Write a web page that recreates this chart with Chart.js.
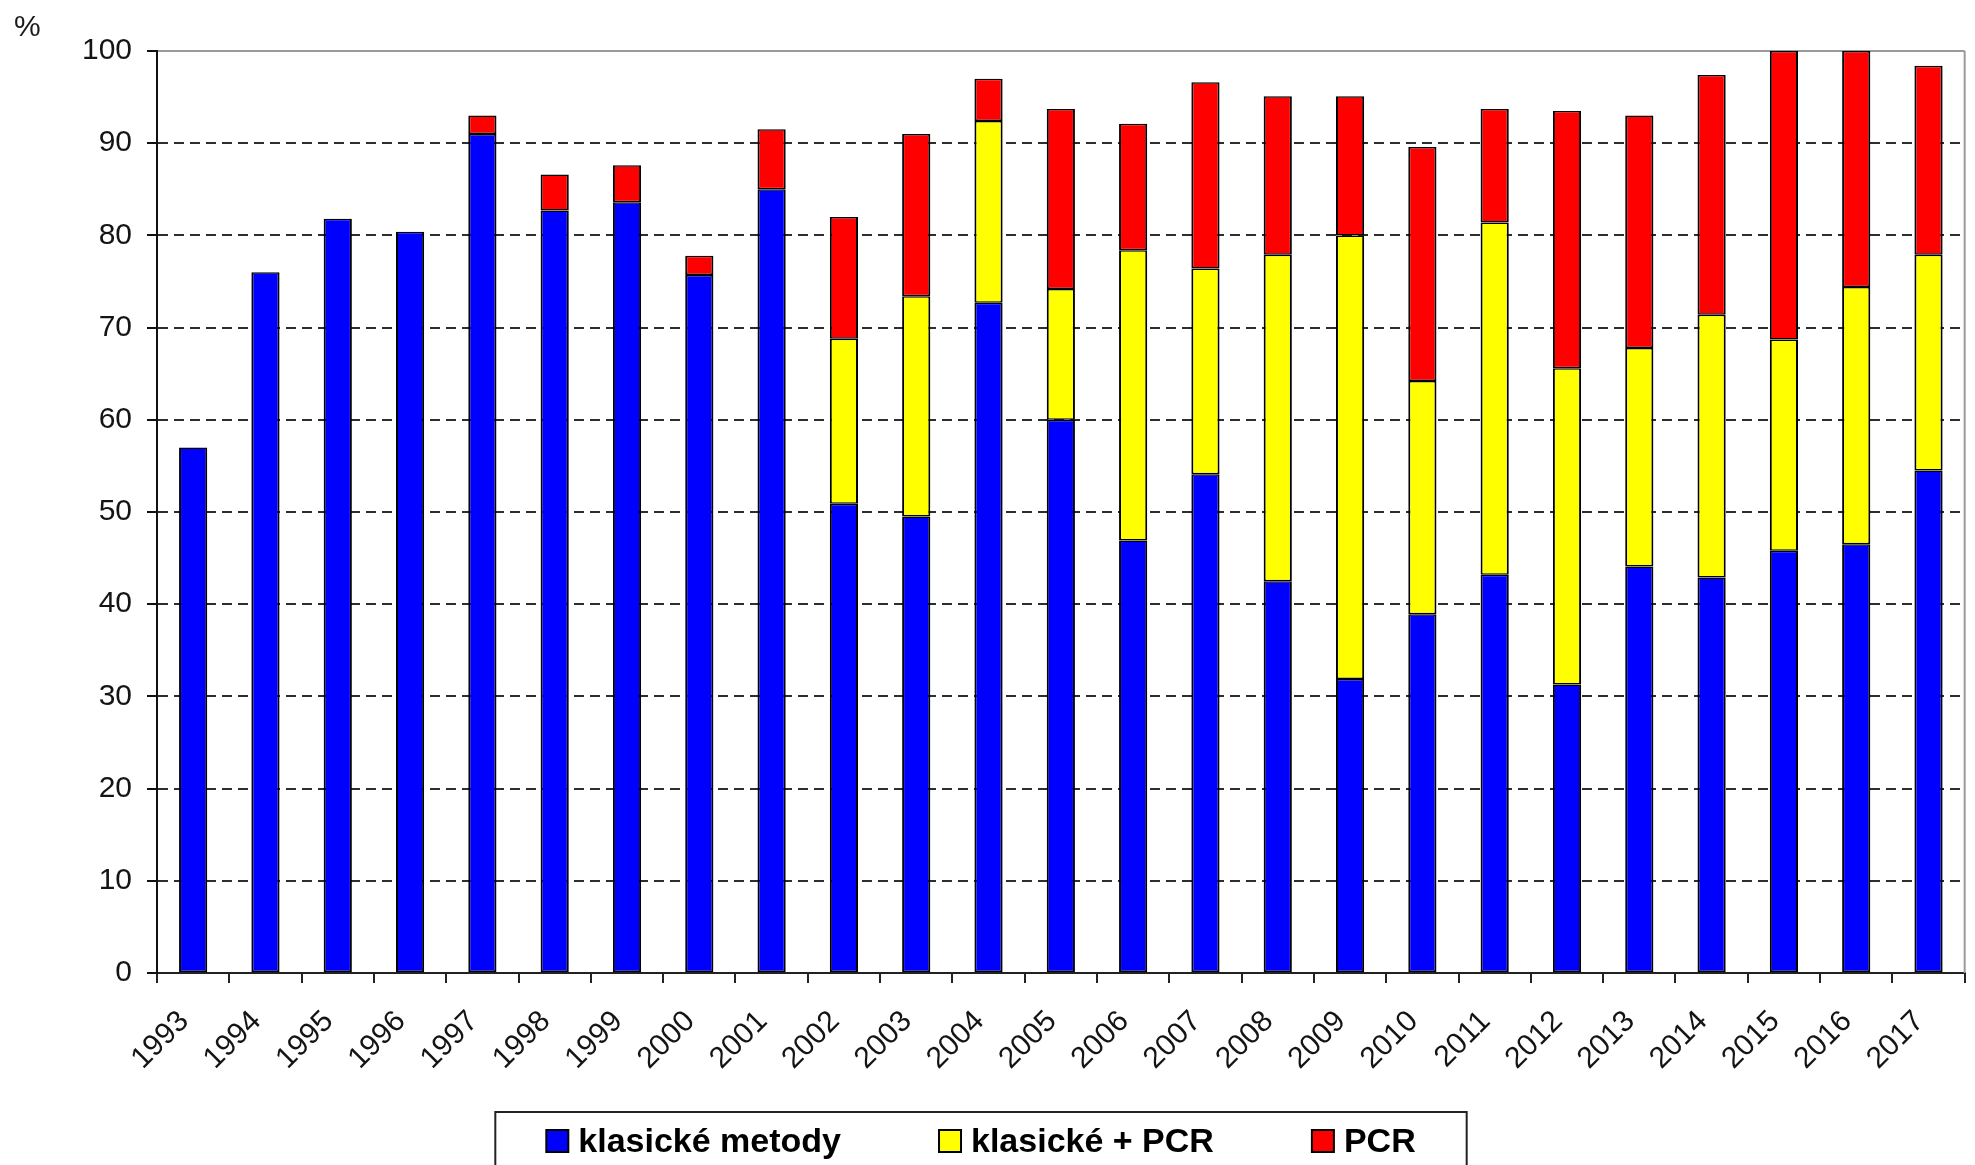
<!DOCTYPE html>
<html lang="cs">
<head>
<meta charset="utf-8">
<title>Metody laboratorního průkazu</title>
<script src="https://cdn.jsdelivr.net/npm/chart.js@4.4.1/dist/chart.umd.min.js"></script>
<style>
  html, body { margin: 0; padding: 0; background: #ffffff; }
  #wrap { width: 1975px; height: 1165px; position: relative; }
  canvas { display: block; }
</style>
</head>
<body>
<div id="wrap"><canvas id="chart" width="1975" height="1165"></canvas></div>
<script>
// Roky
const years = ['1993', '1994', '1995', '1996', '1997', '1998', '1999', '2000', '2001',
  '2002', '2003', '2004', '2005', '2006', '2007', '2008', '2009', '2010', '2011',
  '2012', '2013', '2014', '2015', '2016', '2017'];

// Podíly (%) jednotlivých skupin metod, skládané na sebe
const klasickeMetody = [57.0, 76.0, 81.8, 80.4, 91.0, 82.7, 83.6, 75.7, 85.0,
  50.9, 49.5, 72.7, 60.0, 46.9, 54.1, 42.5, 31.9, 38.9, 43.2,
  31.3, 44.1, 42.9, 45.8, 46.5, 54.5];
const klasickePlusPcr = [null, null, null, null, null, null, null, null, null,
  17.9, 23.9, 19.7, 14.2, 31.5, 22.3, 35.4, 48.1, 25.3, 38.2,
  34.3, 23.7, 28.5, 22.9, 27.9, 23.4];
const pcrOnly = [null, null, null, null, 2.0, 3.9, 4.0, 2.1, 6.5,
  13.2, 17.6, 4.6, 19.5, 13.7, 20.2, 17.2, 15.1, 25.4, 12.3,
  27.9, 25.2, 26.0, 31.3, 25.6, 20.5];

// Popisky osy Y
const yTickValues = [0, 10, 20, 30, 40, 50, 60, 70, 80, 90, 100];

const seriesNames = ['klasické metody', 'klasické + PCR', 'PCR'];
const seriesColors = ['#0000ff', '#ffff00', '#ff0000'];
const unitLabel = '%';

const tickFamily = "'Liberation Sans', Arial, sans-serif";
const legendFamily = "'Liberation Sans', Arial, sans-serif";

// Šedý pravý okraj plochy grafu
const frameRight = {
  id: 'frameRight',
  beforeDatasetsDraw(chart) {
    const { ctx, chartArea } = chart;
    ctx.save();
    ctx.strokeStyle = '#9a9a9a';
    ctx.lineWidth = 2;
    ctx.beginPath();
    ctx.moveTo(chartArea.right, chartArea.top);
    ctx.lineTo(chartArea.right, chartArea.bottom);
    ctx.stroke();
    ctx.restore();
  }
};

// Jednotka osy Y v levém horním rohu
const unitText = {
  id: 'unitText',
  afterDraw(chart) {
    const { ctx } = chart;
    ctx.save();
    ctx.fillStyle = '#1a1a1a';
    ctx.font = '30px ' + tickFamily;
    ctx.textAlign = 'left';
    ctx.textBaseline = 'alphabetic';
    ctx.fillText(unitLabel, 14, 36);
    ctx.restore();
  }
};

// Legenda v rámečku pod grafem
const boxedLegend = {
  id: 'boxedLegend',
  afterDraw(chart) {
    const { ctx } = chart;
    const sets = chart.data.datasets;
    const box = 22, textGap = 10, itemGap = 98, margin = 51;
    const top = 1112, baseline = 1152;
    ctx.save();
    ctx.font = 'bold 34px ' + legendFamily;
    const widths = sets.map(ds => ctx.measureText(ds.label).width);
    let total = 0;
    widths.forEach((w, i) => { total += box + textGap + w + (i < widths.length - 1 ? itemGap : 0); });
    const centre = 981;
    let x = centre - total / 2;
    // rámeček
    ctx.strokeStyle = '#222';
    ctx.lineWidth = 2;
    ctx.strokeRect(x - margin, top, total + 2 * margin, 120);
    sets.forEach((ds, i) => {
      ctx.fillStyle = ds.backgroundColor;
      ctx.fillRect(x, baseline - box, box, box);
      ctx.strokeStyle = '#000';
      ctx.lineWidth = 2;
      ctx.strokeRect(x, baseline - box, box, box);
      ctx.fillStyle = '#000';
      ctx.textAlign = 'left';
      ctx.textBaseline = 'alphabetic';
      ctx.fillText(ds.label, x + box + textGap, baseline);
      x += box + textGap + widths[i] + itemGap;
    });
    ctx.restore();
  }
};

function makeDataset(label, data, color) {
  return {
    label: label,
    data: data,
    backgroundColor: color,
    borderColor: '#000000',
    borderWidth: { top: 1.5, bottom: 1.5, left: 2, right: 2 },
    borderSkipped: false,
    barPercentage: 0.39,
    categoryPercentage: 1.0
  };
}

function draw() {
  new Chart(document.getElementById('chart'), {
    type: 'bar',
    data: {
      labels: years,
      datasets: [
        makeDataset(seriesNames[0], klasickeMetody, seriesColors[0]),
        makeDataset(seriesNames[1], klasickePlusPcr, seriesColors[1]),
        makeDataset(seriesNames[2], pcrOnly, seriesColors[2])
      ]
    },
    options: {
      responsive: false,
      animation: false,
      devicePixelRatio: 1,
      layout: { padding: { top: 51, left: 0, right: 1, bottom: 0 } },
      plugins: {
        legend: { display: false },
        title: { display: false },
        tooltip: { enabled: false }
      },
      scales: {
        x: {
          stacked: true,
          offset: true,
          grid: {
            offset: true,
            drawOnChartArea: false,
            drawTicks: true,
            tickLength: 10,
            color: '#222',
            lineWidth: 2
          },
          border: { display: true, color: '#222', width: 2 },
          ticks: {
            autoSkip: false,
            minRotation: 45,
            maxRotation: 45,
            padding: 21,
            labelOffset: -9,
            color: '#141414',
            font: { family: tickFamily, size: 30 }
          },
          afterFit(scale) { scale.height = 192; }
        },
        y: {
          stacked: true,
          min: 0,
          max: 100,
          afterBuildTicks(scale) {
            scale.ticks = yTickValues.map(v => ({ value: v }));
          },
          grid: {
            drawTicks: true,
            tickLength: 10,
            tickColor: '#111',
            tickWidth: 2,
            lineWidth: 2,
            color: (c) => (c.tick && c.tick.value === 100) ? '#9a9a9a' : '#2e2e2e'
          },
          border: {
            display: true,
            color: '#111',
            width: 2,
            dash: (c) => (c.tick && c.tick.value === 100) ? [] : [10, 6]
          },
          ticks: {
            padding: 15,
            color: '#141414',
            font: { family: tickFamily, size: 30 }
          },
          afterFit(scale) { scale.width = 157; }
        }
      }
    },
    plugins: [frameRight, unitText, boxedLegend]
  });
}

if (document.fonts && document.fonts.load) {
  Promise.all([
    document.fonts.load('30px ' + tickFamily),
    document.fonts.load('bold 34px ' + legendFamily)
  ]).then(draw, draw);
} else {
  draw();
}
</script>
</body>
</html>
